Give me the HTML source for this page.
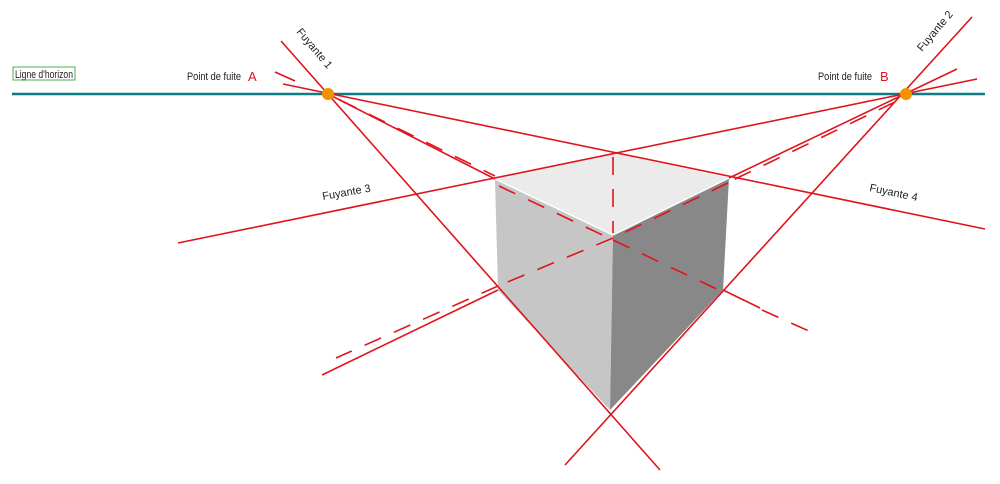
<!DOCTYPE html>
<html><head><meta charset="utf-8"><style>
html,body{margin:0;padding:0;background:#fff;}
svg{display:block;}
text{font-family:"Liberation Sans",sans-serif;}
</style></head><body>
<svg width="1000" height="484" viewBox="0 0 1000 484" xmlns="http://www.w3.org/2000/svg">
<!-- cube -->
<polygon points="495,179 613,235 610,410 498,290" fill="#c6c6c6"/>
<polygon points="613,235 729,178 723,290 610,410" fill="#888888"/>
<polygon points="495,179 613,153 729,178 613,235" fill="#ebebeb"/>
<line x1="495" y1="179" x2="613" y2="235" stroke="#fff" stroke-width="1.5"/>
<line x1="613" y1="235" x2="729" y2="178" stroke="#fff" stroke-width="1.5"/>

<line x1="12" y1="94" x2="985" y2="94" stroke="#0d7c84" stroke-width="2.5"/>

<g stroke="#e0141c" stroke-width="1.6" fill="none">
<!-- Fuyante 1 -->
<line x1="281" y1="41" x2="660" y2="470"/>
<!-- Fuyante 2 -->
<line x1="972" y1="17" x2="565" y2="465"/>
<!-- Fuyante 3 -->
<line x1="178" y1="243" x2="977" y2="79"/>
<!-- Fuyante 4 -->
<line x1="283" y1="84" x2="985" y2="229"/>
<!-- A through L -->
<line x1="328" y1="94" x2="495" y2="179"/>
<line x1="275" y1="72" x2="295" y2="81"/>
<line x1="723" y1="290" x2="760" y2="308"/>
<!-- B through R -->
<line x1="957" y1="69" x2="729" y2="178"/>
<line x1="498" y1="290" x2="322" y2="375"/>
</g>
<g stroke="#e0141c" stroke-width="1.6" fill="none" stroke-dasharray="18,14">
<line x1="340" y1="100" x2="495" y2="176"/>
<line x1="499" y1="186" x2="613" y2="240"/>
<line x1="613" y1="240" x2="723" y2="292"/>
<line x1="762" y1="310" x2="820" y2="336"/>
<line x1="895" y1="102" x2="729" y2="182"/>
<line x1="728" y1="183" x2="613" y2="238"/>
<line x1="613" y1="238" x2="498" y2="286"/>
<line x1="498" y1="286" x2="336" y2="358"/>
<line x1="613" y1="157" x2="613" y2="233"/>
</g>

<circle cx="328" cy="94" r="6" fill="#f39200"/>
<circle cx="906" cy="94" r="6" fill="#f39200"/>

<rect x="13" y="67" width="62" height="13" fill="none" stroke="#4caf50" stroke-width="1"/>
<text x="15" y="78" font-size="11" fill="#222" textLength="58" lengthAdjust="spacingAndGlyphs">Ligne d'horizon</text>
<text x="187" y="80" font-size="11" fill="#222" textLength="54" lengthAdjust="spacingAndGlyphs">Point de fuite</text>
<text x="248" y="81" font-size="13" fill="#e0141c">A</text>
<text x="818" y="80" font-size="11" fill="#222" textLength="54" lengthAdjust="spacingAndGlyphs">Point de fuite</text>
<text x="880" y="81" font-size="13" fill="#e0141c">B</text>
<text font-size="11" fill="#222" transform="translate(296,32) rotate(50)">Fuyante 1</text>
<text font-size="11" fill="#222" transform="translate(922,52) rotate(-50)">Fuyante 2</text>
<text font-size="11" fill="#222" transform="translate(323,200) rotate(-10)">Fuyante 3</text>
<text font-size="11" fill="#222" transform="translate(869,191) rotate(12)">Fuyante 4</text>
</svg>
</body></html>
